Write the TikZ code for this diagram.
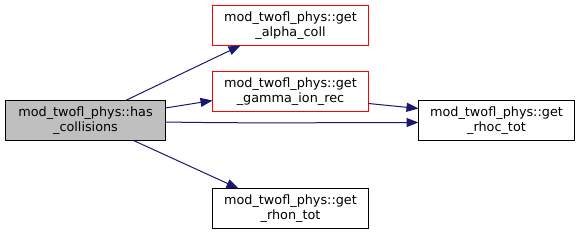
\documentclass[tikz,border=0pt]{standalone}
\usepackage{fontspec}
\setmainfont{DejaVu Sans}
\usetikzlibrary{arrows.meta}
\definecolor{edgeblue}{HTML}{191970}
\definecolor{nodegray}{HTML}{BFBFBF}
\begin{document}
\begin{tikzpicture}[x=1pt,y=-1pt,
  fnbase/.style={line width=1pt,minimum width=156pt,minimum height=40pt,inner sep=0pt,outer sep=0pt,align=center,font=\fontsize{12.8}{14.5}\selectfont},
  fn/.style={fnbase,draw=black},
  leaf/.style={fnbase,draw=red},
  root/.style={fnbase,draw=black,fill=nodegray,minimum width=160pt},
  call/.style={draw=edgeblue,line width=1pt,-{Triangle[length=12pt,width=9pt]}}]
\useasboundingbox (0,0) rectangle (580,235);
\node[root] (has) at (85.5,120.5) {mod\_twofl\_phys::has\\\_collisions};
\node[leaf] (alpha) at (290.5,25.5) {mod\_twofl\_phys::get\\\_alpha\_coll};
\node[leaf] (gamma) at (290.5,91.5) {mod\_twofl\_phys::get\\\_gamma\_ion\_rec};
\node[fn] (rhoc) at (496.5,120.5) {mod\_twofl\_phys::get\\\_rhoc\_tot};
\node[fn] (rhon) at (290.5,208.5) {mod\_twofl\_phys::get\\\_rhon\_tot};
\draw[call] ([xshift=40pt]has.north) -- ([xshift=-50pt]alpha.south);
\draw[call] ([yshift=12.5pt]has.east) -- ([yshift=-9pt]gamma.west);
\draw[call] ([yshift=-1.5pt]has.east) .. controls ([xshift=90pt,yshift=-3pt]has.east) and ([xshift=-90pt,yshift=-2pt]rhoc.west) .. ([yshift=-2pt]rhoc.west);
\draw[call] ([yshift=-12pt]gamma.east) -- ([yshift=12pt]rhoc.west);
\draw[call] ([xshift=48pt]has.south) -- ([xshift=-52pt]rhon.north);
\end{tikzpicture}
\end{document}
